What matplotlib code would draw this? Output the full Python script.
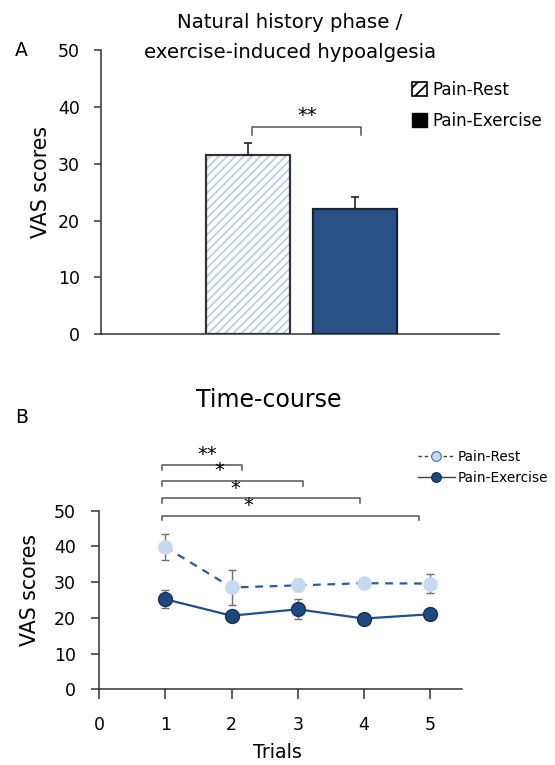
import numpy as np
import matplotlib
matplotlib.use("Agg")
from matplotlib import pyplot as plt
from matplotlib.lines import Line2D
from matplotlib.patches import Patch

plt.rcParams["font.family"] = ["DejaVu Sans"]
plt.rcParams["hatch.linewidth"] = 1.3

# Panel A: natural history phase
bar_labels = ["Pain-Rest", "Pain-Exercise"]
bar_means = [31.6, 22.0]
bar_sems = [2.1, 2.1]

# Panel B: time-course
trials = [1, 2, 3, 4, 5]
rest_means = [39.8, 28.5, 29.1, 29.7, 29.6]
rest_sems = [3.6, 5.0, 1.7, 0.5, 2.7]
exer_means = [25.2, 20.6, 22.4, 19.8, 21.0]
exer_sems = [2.5, 0.5, 2.8, 0.5, 0.5]

# significance brackets: (end trial, bracket height, star label, star x)
brackets_b = [
    (2.16, 62.8, "**", 1.63),
    (3.08, 58.3, "*", 1.82),
    (3.94, 53.5, "*", 2.05),
    (4.84, 48.6, "*", 2.26),
]

LIGHT = "#c6d9f1"
HATCH = "#b9cde6"
DARK = "#1f497d"
BAR_DARK = "#2a5287"
ERR = "#707070"
AXIS = "#333333"

fig = plt.figure(figsize=(5.55, 7.65), dpi=100)

# ---------------- Panel A ----------------
ax = fig.add_axes([0.182, 0.5634, 0.717, 0.3706])
xpos = np.array([1, 2])
width = 0.785
ax.bar(xpos[0], bar_means[0], width, color="white", edgecolor=HATCH,
       hatch="////", linewidth=0, zorder=2)
ax.bar(xpos[0], bar_means[0], width, color="none", edgecolor="#333333",
       linewidth=1.6, zorder=3)
ax.bar(xpos[1], bar_means[1], width, color=BAR_DARK, edgecolor="#14243a",
       linewidth=1.6, zorder=3)
ax.errorbar(xpos, bar_means, yerr=[[0, 0], bar_sems], fmt="none",
            ecolor="#222222", elinewidth=1.2, capsize=3, capthick=1.2, zorder=4)

# bracket
bx0, bx1, by = 1.04, 2.056, 36.5
ax.plot([bx0, bx0, bx1, bx1], [by - 1.4, by, by, by - 1.4], color="#555555",
        lw=1.1, clip_on=False)
ax.text(1.55, by + 0.3, "**", ha="center", va="bottom", fontsize=14)

ax.set_xlim(1 - 1.374, 2 + 1.346)
ax.set_ylim(0, 50)
ax.set_yticks(np.arange(0, 51, 10))
ax.set_xticks([])
for s in ["top", "right"]:
    ax.spines[s].set_visible(False)
for s in ["left", "bottom"]:
    ax.spines[s].set_color(AXIS)
    ax.spines[s].set_linewidth(1.1)
ax.tick_params(axis="y", direction="out", length=5, width=1.1, color=AXIS,
               labelsize=12.5, pad=10)
ax.text(41 / 555, 1 - 182 / 765, "VAS scores", transform=fig.transFigure,
        rotation=90, ha="center", va="center", fontsize=14.8)

legend_a = [
    Patch(facecolor="white", edgecolor="black", hatch="///", linewidth=1.2),
    Patch(facecolor="black", edgecolor="black"),
]
ax.legend(legend_a, bar_labels, loc="upper left",
          bbox_to_anchor=(412 / 555, 1 - 81 / 765),
          bbox_transform=fig.transFigure, frameon=False, fontsize=12,
          handlelength=0.9, handleheight=0.9, handletextpad=0.35,
          labelspacing=0.75, borderaxespad=0, borderpad=0)

fig.text(290 / 555, 1 - 23 / 765, "Natural history phase /", ha="center",
         va="center", fontsize=14.2)
fig.text(290 / 555, 1 - 53 / 765, "exercise-induced hypoalgesia", ha="center",
         va="center", fontsize=14.2)
fig.text(15 / 555, 1 - 50 / 765, "A", fontsize=13.5, va="center")

# ---------------- Panel B ----------------
bx = fig.add_axes([0.179, 0.099, 0.654, 0.2334])
bx.errorbar(trials, rest_means, yerr=rest_sems, fmt="none", ecolor=ERR,
            elinewidth=1.0, capsize=3, capthick=1.0, zorder=2)
bx.errorbar(trials, exer_means, yerr=exer_sems, fmt="none", ecolor=ERR,
            elinewidth=1.0, capsize=3, capthick=1.0, zorder=2)
bx.plot(trials, rest_means, ls=(0, (3.5, 3)), color="#2f5a93", lw=1.6, zorder=3)
bx.plot(trials, rest_means, ls="none", marker="o", ms=9.5, mfc=LIGHT,
        mec=LIGHT, zorder=4)
bx.plot(trials, exer_means, ls="-", color="#244e86", lw=1.6, zorder=3)
bx.plot(trials, exer_means, ls="none", marker="o", ms=10, mfc=DARK,
        mec="#153358", mew=1.0, zorder=4)

tick_h = 1.3
for x_end, y, label, star_x in brackets_b:
    bx.plot([0.95, 0.95, x_end, x_end], [y - tick_h, y, y, y - tick_h],
            color="#555555", lw=1.1, clip_on=False)
    bx.text(star_x, y + 0.2, label, ha="center", va="bottom", fontsize=14,
            clip_on=False)

bx.set_xlim(0, 5.49)
bx.set_ylim(0, 50)
bx.set_xticks(range(0, 6))
bx.set_yticks(np.arange(0, 51, 10))
for s in ["top", "right"]:
    bx.spines[s].set_visible(False)
for s in ["left", "bottom"]:
    bx.spines[s].set_color(AXIS)
    bx.spines[s].set_linewidth(1.1)
bx.tick_params(axis="both", direction="out", width=1.1, color=AXIS,
               labelsize=12.5)
bx.tick_params(axis="y", length=6, pad=11)
bx.tick_params(axis="x", length=7, pad=12)
bx.text(30 / 555, 1 - 590 / 765, "VAS scores", transform=fig.transFigure,
        rotation=90, ha="center", va="center", fontsize=14.8)
bx.text(277 / 555, 1 - 753 / 765, "Trials", transform=fig.transFigure,
        ha="center", va="center", fontsize=13.6)

legend_b = [
    Line2D([], [], color="#404040", ls=(0, (2.5, 2)), lw=1.0, marker="o",
           ms=7, mfc=LIGHT, mec="#4a6a95", mew=0.8),
    Line2D([], [], color="#404040", ls="-", lw=1.0, marker="o", ms=7,
           mfc=DARK, mec="#0f2540", mew=0.8),
]
bx.legend(legend_b, bar_labels, loc="upper left",
          bbox_to_anchor=(418 / 555, 1 - 450 / 765),
          bbox_transform=fig.transFigure, frameon=False, fontsize=9.8,
          handlelength=2.7, handletextpad=0.2, labelspacing=0.5,
          borderaxespad=0, borderpad=0)

fig.text(269 / 555, 1 - 400 / 765, "Time-course", ha="center", va="center",
         fontsize=17)
fig.text(15 / 555, 1 - 418 / 765, "B", fontsize=13.5, va="center")

fig.savefig("out.png", dpi=100)
plt.close(fig)
